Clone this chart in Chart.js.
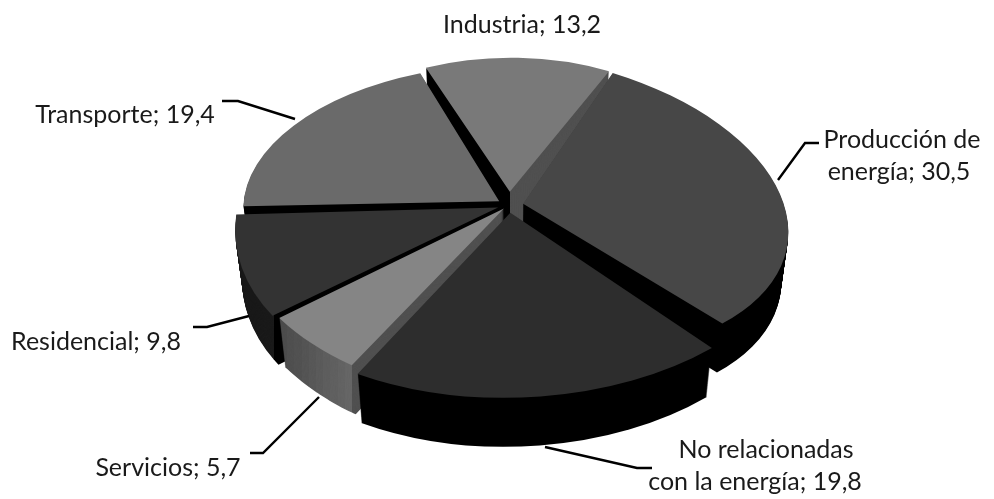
<!DOCTYPE html>
<html lang="es">
<head>
<meta charset="utf-8">
<style>html,body{margin:0;padding:0;background:#fff}canvas{display:block}</style>
<script src="https://cdn.jsdelivr.net/npm/chart.js@4"></script>
</head>
<body>
<canvas id="c" width="994" height="499"></canvas>
<script>
const categories = ['Industria', 'Producción de energía', 'No relacionadas con la energía', 'Servicios', 'Residencial', 'Transporte'];
const values = [13.2, 30.5, 19.8, 5.7, 9.8, 19.4];
const topColors = ['#797979', '#474747', '#2d2d2d', '#858585', '#333333', '#6a6a6a'];
const explode = [0.085, 0.055, 0.05, 0.03, 0.045, 0.045];
const drawOrder = [0, 5, 1, 4, 3, 2];

const view = {cx: 509, cy: 205, A: 259, B: 157, p: 0.15, depth: 49, shrink: 0.025};
const font = '25px Lato';
const labels = [
  {text: 'Industria; 13,2', x: 522, y: 25},
  {text: 'Producción de', x: 902, y: 140},
  {text: 'energía; 30,5', x: 899, y: 172},
  {text: 'No relacionadas', x: 766, y: 450},
  {text: 'con la energía; 19,8', x: 755, y: 482},
  {text: 'Servicios; 5,7', x: 168, y: 468},
  {text: 'Residencial; 9,8', x: 96, y: 342},
  {text: 'Transporte; 19,4', x: 125, y: 115}
];
const leaders = [
  [[819,143],[805,143],[778,180]],
  [[545,447],[637,468],[652,468]],
  [[250,453],[263,453],[319,397]],
  [[193,327],[207,327],[249,316]],
  [[222,101],[238,101],[295,119]]
];

function project(u, v, d) {
  const w = 1 / (1 - view.p * v);
  const s = 1 - view.shrink * d / view.depth;
  return [view.cx + view.A * u * w * s, view.cy + view.B * v * w + d];
}

function wallBands(i, s) {
  const black = '#000000';
  if (i === 0) return [[Math.round(s.q0[0]), black], [Infinity, '#505050']];
  if (i === 4) return [[Math.round(s.c1[0]), '#1a1a1a'], [Infinity, black]];
  if (i === 3) {
    const l = Math.round(s.c2[0]), r = Math.round(s.c1[0]), bands = [], n = 10;
    for (let k = 1; k <= n; k++) {
      const g = Math.round(0x4a + (0x66 - 0x4a) * k / n);
      bands.push([Math.round(l + (r - l) * k / n), `rgb(${g},${g},${g})`]);
    }
    bands.push([Infinity, '#505050']);
    return bands;
  }
  return [[Infinity, black]];
}

function sliceMatrix(arc, i, d) {
  const span = arc.endAngle - arc.startAngle;
  const a0 = arc.startAngle + 0.15 * span, a1 = arc.endAngle - 0.15 * span, mid = (a0 + a1) / 2;
  const ex = Math.cos(mid) * explode[i], ey = Math.sin(mid) * explode[i];
  const q0 = project(ex, ey, d);
  const q1 = project(Math.cos(a0) + ex, Math.sin(a0) + ey, d);
  const q2 = project(Math.cos(a1) + ex, Math.sin(a1) + ey, d);
  const c1 = project(Math.cos(arc.startAngle) + ex, Math.sin(arc.startAngle) + ey, d);
  const c2 = project(Math.cos(arc.endAngle) + ex, Math.sin(arc.endAngle) + ey, d);
  const R = arc.outerRadius;
  const ax = R * Math.cos(a0), ay = R * Math.sin(a0), bx = R * Math.cos(a1), by = R * Math.sin(a1);
  const det = ax * by - bx * ay;
  const px = q1[0] - q0[0], py = q1[1] - q0[1], rx = q2[0] - q0[0], ry = q2[1] - q0[1];
  const m11 = (px * by - rx * ay) / det, m12 = (rx * ax - px * bx) / det;
  const m21 = (py * by - ry * ay) / det, m22 = (ry * ax - py * bx) / det;
  return {m: [m11, m21, m12, m22, q0[0] - m11 * arc.x - m12 * arc.y, q0[1] - m21 * arc.x - m22 * arc.y], q0, c1, c2};
}

function paintArc(ctx, arc, color, matrix) {
  const original = arc.options;
  arc.options = Object.assign(Object.create(original), {backgroundColor: color, borderWidth: 0});
  ctx.save();
  ctx.transform(...matrix);
  arc.draw(ctx);
  ctx.restore();
  arc.options = original;
}

const pie3d = {
  id: 'pie3d',
  beforeDatasetsDraw(chart) {
    const ctx = chart.ctx, arcs = chart.getDatasetMeta(0).data;
    drawOrder.forEach(i => {
      const arc = arcs[i], top = sliceMatrix(arc, i, 0);
      const bands = wallBands(i, top);
      for (let d = view.depth; d >= 1; d--) {
        const s = sliceMatrix(arc, i, d);
        let left = 0;
        bands.forEach(([right, color]) => {
          const r = Math.min(right, chart.width);
          ctx.save();
          ctx.beginPath();
          ctx.rect(left, 0, r - left, chart.height);
          ctx.clip();
          paintArc(ctx, arc, color, s.m);
          ctx.restore();
          left = r;
        });
      }
      paintArc(ctx, arc, topColors[i], top.m);
    });
    return false;
  },
  afterDraw(chart) {
    const ctx = chart.ctx;
    ctx.save();
    ctx.strokeStyle = '#000';
    ctx.lineWidth = 2.4;
    leaders.forEach(pts => {
      ctx.beginPath();
      pts.forEach((p, k) => k ? ctx.lineTo(p[0], p[1]) : ctx.moveTo(p[0], p[1]));
      ctx.stroke();
    });
    ctx.fillStyle = '#1a1a1a';
    ctx.font = font;
    ctx.textAlign = 'center';
    ctx.textBaseline = 'middle';
    labels.forEach(l => ctx.fillText(l.text, l.x, l.y));
    ctx.restore();
  }
};

new Chart(document.getElementById('c'), {
  type: 'pie',
  data: {labels: categories, datasets: [{data: values, backgroundColor: topColors, borderWidth: 0}]},
  options: {
    responsive: false,
    animation: false,
    rotation: -22,
    radius: 200,
    plugins: {legend: {display: false}, tooltip: {enabled: false}}
  },
  plugins: [pie3d]
});
</script>
</body>
</html>
